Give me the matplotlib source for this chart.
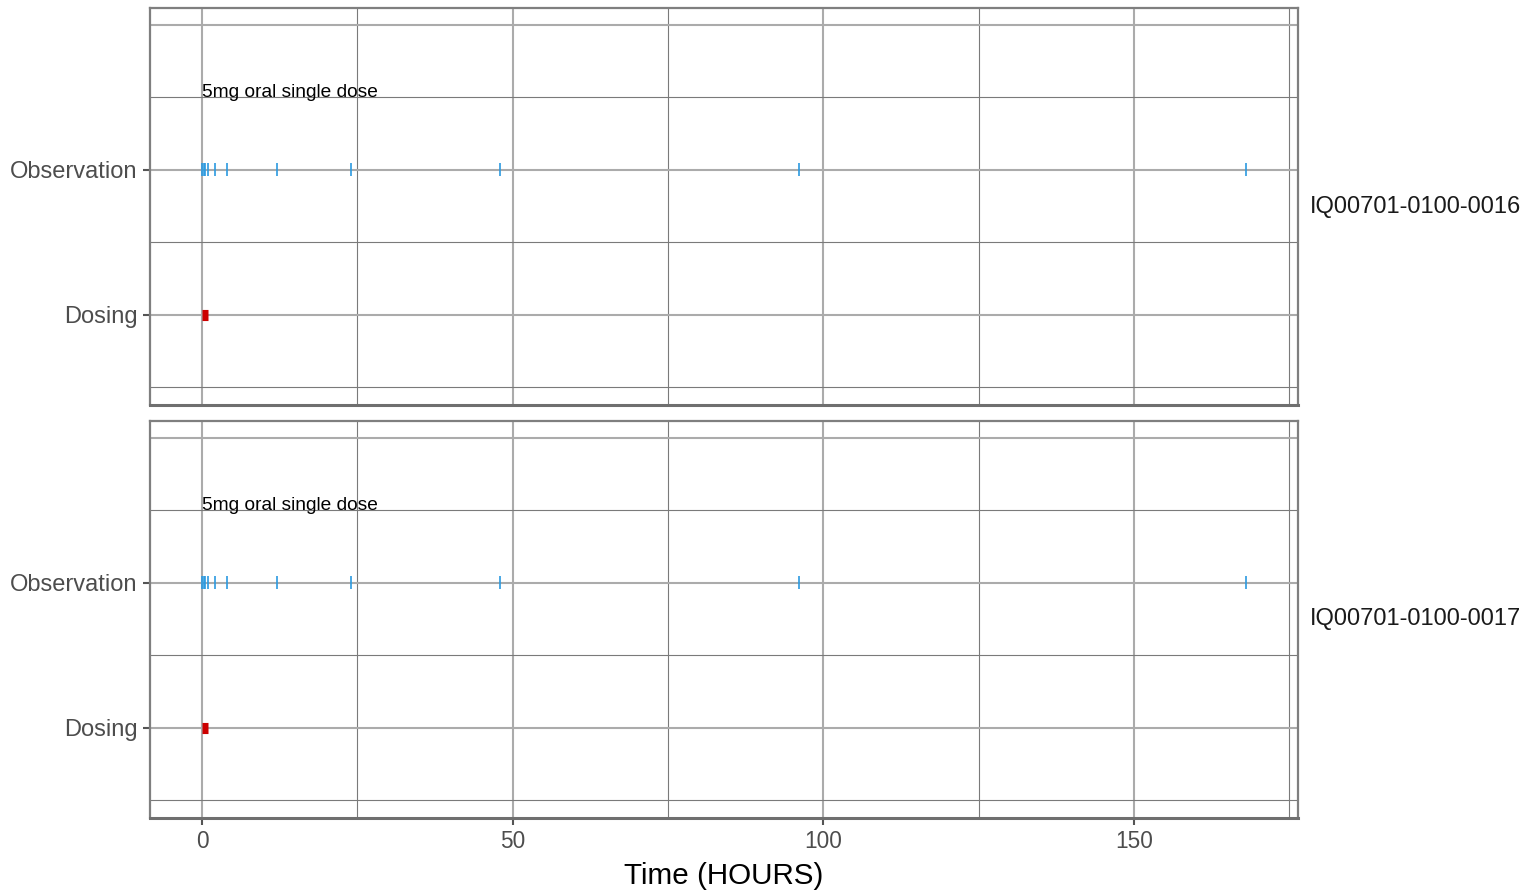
import matplotlib
matplotlib.use("Agg")
import matplotlib.pyplot as plt

plt.rcParams['font.family'] = ['Liberation Sans', 'DejaVu Sans']

subjects = ["IQ00701-0100-0016", "IQ00701-0100-0017"]
obs_times = [0, 0.25, 0.5, 1, 2, 4, 12, 24, 48, 96, 168]
dose_start = [0, 0]
dose_end = [1, 1]
dose_label = ["5mg oral single dose", "5mg oral single dose"]
y_categories = ["Dosing", "Observation"]
x_ticks = [0, 50, 100, 150]
x_minor = [25, 75, 125, 175]
y_major = [1, 2, 3]
y_minor = [0.5, 1.5, 2.5]

W, H = 1527, 890
fig = plt.figure(figsize=(W / 100, H / 100), dpi=100)

panels = [(8, 405), (421, 818)]
left, right = 150, 1298

major_c = "#ababab"
minor_c = "#7a7a7a"
border_c = "#7f7f7f"

for i, (subj, (top, bot)) in enumerate(zip(subjects, panels)):
    ax = fig.add_axes([left / W, 1 - bot / H, (right - left) / W, (bot - top) / H])
    ax.set_xlim(-8.4, 176.4)
    ax.set_ylim(0.379, 3.117)
    for x in x_ticks:
        ax.axvline(x, color=major_c, lw=1.5, zorder=0)
    for x in x_minor:
        ax.axvline(x, color=minor_c, lw=0.8, zorder=0)
    for y in y_major:
        ax.axhline(y, color=major_c, lw=1.5, zorder=0)
    for y in y_minor:
        ax.axhline(y, color=minor_c, lw=0.8, zorder=0)

    # observations
    ax.vlines(obs_times, 2 - 0.045, 2 + 0.045, color="#2b9ae0", lw=1.2, zorder=3)
    # dosing
    ax.plot([dose_start[i], dose_end[i]], [1, 1], color="#cc0000", lw=8,
            solid_capstyle="butt", zorder=3)
    ax.text(dose_start[i], 2.5, dose_label[i], ha="left", va="baseline",
            fontsize=13.8, color="black", zorder=4)

    ax.set_yticks([1, 2])
    ax.set_yticklabels(y_categories, fontsize=17, color="#4d4d4d")
    ax.tick_params(axis="y", length=5, width=1.5, color="#555555", pad=4)
    if i == len(subjects) - 1:
        ax.set_xticks(x_ticks)
        ax.set_xticklabels([str(t) for t in x_ticks], fontsize=16.3, color="#4d4d4d")
        ax.tick_params(axis="x", length=5, width=1.5, color="#555555", pad=4)
        ax.set_xlabel("Time (HOURS)", fontsize=21.3, color="black", labelpad=6)
    else:
        ax.set_xticks(x_ticks)
        ax.tick_params(axis="x", length=0, labelbottom=False)
    for s in ax.spines.values():
        s.set_color(border_c)
        s.set_linewidth(1.6)
    ax.spines["bottom"].set_linewidth(2.2)
    ax.spines["bottom"].set_color("#6f6f6f")

    ax.text(1.01, 0.5, subj, transform=ax.transAxes, ha="left", va="center",
            fontsize=17, color="#1a1a1a")

fig.savefig("out.png", dpi=100)
